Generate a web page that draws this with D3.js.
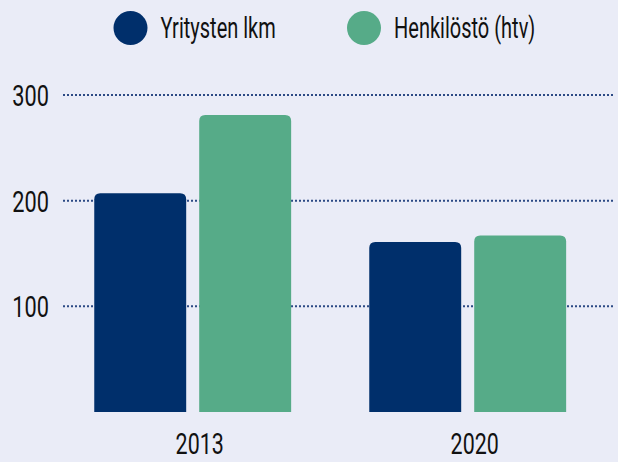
<!DOCTYPE html>
<html lang="fi">
  <head>
    <meta charset="UTF-8" />
    <title>Yritykset ja henkilöstö</title>
    <style>
      html, body {
        margin: 0;
        padding: 0;
        background: #eaecf7;
      }
      svg {
        display: block;
        font-family: Roboto, "Noto Sans", sans-serif;
      }
    </style>
  </head>
  <body>
    <div class="chart"></div>

    <script src="https://d3js.org/d3.v7.min.js"></script>
    <script>
      // data
      const years = ["2013", "2020"];
      const seriesNames = ["Yritysten lkm", "Henkilöstö (htv)"];
      const yritykset = [207, 161];
      const henkilosto = [281, 167];
      const yTicks = [100, 200, 300];

      const colors = ["#002f6b", "#56ab88"];
      const width = 618,
        height = 462;

      const svg = d3
        .select(".chart")
        .append("svg")
        .attr("width", width)
        .attr("height", height);

      svg.append("rect").attr("width", width).attr("height", height).attr("fill", "#eaecf7");

      // scales
      const x = d3
        .scaleBand()
        .domain(years)
        .range([55.2, 605.2])
        .paddingInner(0.284)
        .paddingOuter(0.142);

      const xSub = d3
        .scaleBand()
        .domain(seriesNames)
        .range([0, x.bandwidth()])
        .paddingInner(0.124);

      const y = d3.scaleLinear().domain([0, 300]).range([412, 95]);

      // text helper: g moved to (tx,ty) and squeezed horizontally (no condensed font installed)
      function label(sel, tx, ty, anchor, squeeze) {
        const g = sel
          .append("g")
          .attr("transform", (d, i) => `translate(${tx(d, i)},${ty(d, i)}) scale(${squeeze},1)`);
        return g
          .append("text")
          .attr("text-anchor", anchor)
          .attr("font-size", 29)
          .attr("fill", "#111");
      }

      // gridlines + tick labels
      const grid = svg.append("g");
      grid
        .selectAll("line")
        .data(yTicks)
        .join("line")
        .attr("x1", 63)
        .attr("x2", 615)
        .attr("y1", (d) => y(d))
        .attr("y2", (d) => y(d))
        .attr("stroke", "#2c4a85")
        .attr("stroke-width", 2)
        .attr("stroke-dasharray", "2,2");

      label(
        grid.selectAll("g.tick").data(yTicks).join("g").attr("class", "tick"),
        () => 49,
        (d) => y(d) + 11,
        "end",
        0.75
      ).text((d) => d);

      // bars, rounded on top
      function barPath(x0, w, yTop, yBottom, r) {
        return `M${x0},${yBottom}V${yTop + r}Q${x0},${yTop} ${x0 + r},${yTop}H${x0 + w - r}Q${x0 + w},${yTop} ${x0 + w},${yTop + r}V${yBottom}Z`;
      }

      const rows = years.map((yr, i) => ({
        year: yr,
        values: [yritykset[i], henkilosto[i]],
      }));

      svg
        .append("g")
        .selectAll("g")
        .data(rows)
        .join("g")
        .attr("transform", (d) => `translate(${x(d.year)},0)`)
        .selectAll("path")
        .data((d) => d.values.map((v, j) => ({ name: seriesNames[j], value: v, j })))
        .join("path")
        .attr("fill", (d) => colors[d.j])
        .attr("d", (d) => barPath(xSub(d.name), xSub.bandwidth(), y(d.value), y(0), 6));

      // x labels
      label(
        svg.append("g").selectAll("g").data(years).join("g"),
        (d) => x(d) + x.bandwidth() / 2 + 7,
        () => 454,
        "middle",
        0.74
      ).text((d) => d);

      // legend
      const legendX = [130.5, 364];
      const legend = svg
        .append("g")
        .selectAll("g")
        .data(seriesNames)
        .join("g")
        .attr("transform", (d, i) => `translate(${legendX[i]},28)`);

      legend.append("circle").attr("r", 17).attr("fill", (d, i) => colors[i]);
      label(legend, () => 30, () => 10, "start", 0.69).text((d) => d);
    </script>
  </body>
</html>
